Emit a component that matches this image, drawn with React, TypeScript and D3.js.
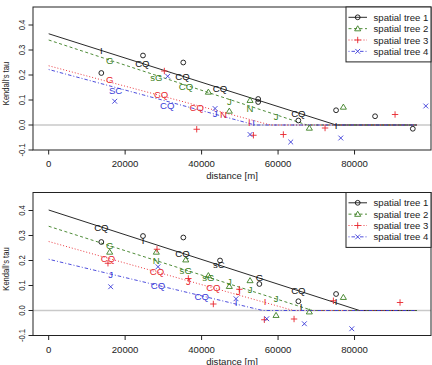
import * as d3 from "d3"

// [distance (m), Kendall's tau, label]
type Pt = [number, number, string]

const trees = ["spatial tree 1", "spatial tree 2", "spatial tree 3", "spatial tree 4"]
const colors = ["#111111", "#3b7f22", "#e8262e", "#3a3ad8"]
const xTicks = [0, 20000, 40000, 60000, 80000]
const yTicks = [-0.1, 0, 0.1, 0.2, 0.3, 0.4]

// upper panel
const topTree1: Pt[] = [
  [13770, 0.299, "I"], [13770, 0.208, ""], [24670, 0.278, ""], [24500, 0.245, "CQ"],
  [35200, 0.25, ""], [35000, 0.194, "CQ"], [44800, 0.146, "CQ"], [54800, 0.104, ""],
  [54800, 0.092, ""], [65300, 0.048, "CQ"], [65300, 0.018, ""], [75170, 0.059, ""],
  [75170, 0.0, "I"], [85370, 0.035, ""], [95240, -0.015, ""],
]
const topTree2: Pt[] = [
  [15960, 0.259, "G"], [28160, 0.192, "sG"], [35900, 0.155, "CQ"], [41770, 0.132, ""],
  [47250, 0.096, "J"], [47250, 0.056, ""], [52670, 0.099, ""], [52670, 0.066, "N"],
  [59470, 0.035, "J"], [68180, -0.012, ""], [77080, 0.072, ""],
]
const topTree3: Pt[] = [
  [16000, 0.184, "G"], [30250, 0.216, ""], [29400, 0.121, "CQ"], [38720, 0.072, "CQ"],
  [38720, -0.017, ""], [45690, 0.043, "N"], [52500, 0.011, "I"], [53550, -0.041, ""],
  [61380, -0.038, ""], [72290, -0.012, ""], [90600, 0.042, ""],
]
const topTree4: Pt[] = [
  [17500, 0.14, "SC"], [17270, 0.095, ""], [31130, 0.195, ""], [31000, 0.077, "CQ"],
  [43520, 0.066, ""], [43520, 0.046, "J"], [53600, 0.011, "I"], [52670, -0.038, ""],
  [63310, -0.068, ""], [76400, -0.052, ""], [98640, 0.076, ""],
]
const topIntercept = [0.365, 0.34, 0.237, 0.222]
const topZeroAt = [75200, 67600, 58000, 54000]

// lower panel
const bottomTree1: Pt[] = [
  [13770, 0.334, "CQ"], [13770, 0.274, ""], [24670, 0.298, ""], [24670, 0.279, "I"],
  [35220, 0.292, ""], [35000, 0.23, "CQ"], [44820, 0.2, ""], [44500, 0.183, "sC"],
  [55110, 0.134, "G"], [55110, 0.106, ""], [65300, 0.081, "CQ"], [65310, 0.037, ""],
  [66000, 0.018, "I"], [75170, 0.066, ""], [75170, 0.035, "I"],
]
const bottomTree2: Pt[] = [
  [15960, 0.26, "G"], [15960, 0.234, ""], [28160, 0.234, ""], [28160, 0.2, "N"],
  [35850, 0.203, ""], [35850, 0.161, "sG"], [41770, 0.14, ""], [41770, 0.132, "sG"],
  [47250, 0.117, "J"], [47250, 0.097, ""], [52670, 0.12, ""], [52670, 0.084, "J"],
  [59470, 0.048, "J"], [59470, -0.019, ""], [68180, -0.005, ""], [77080, 0.053, ""],
]
const bottomTree3: Pt[] = [
  [15510, 0.21, "CQ"], [15510, 0.189, ""], [28330, 0.245, ""], [28330, 0.155, "CQ"],
  [36530, 0.128, ""], [36530, 0.116, "J"], [43070, 0.092, "CQ"], [43070, 0.026, ""],
  [49870, 0.085, ""], [49610, 0.076, "J"], [56590, 0.037, "I"], [56410, -0.037, ""],
  [64180, -0.034, ""], [74470, 0.039, ""], [91900, 0.032, ""],
]
const bottomTree4: Pt[] = [
  [16220, 0.144, "J"], [16220, 0.095, ""], [28600, 0.175, ""], [28600, 0.1, "CQ"],
  [40030, 0.058, "CQ"], [49000, 0.047, ""], [49000, 0.031, "I"], [57040, -0.033, ""],
  [66880, -0.053, ""], [79280, -0.073, ""],
]
const bottomIntercept = [0.402, 0.337, 0.276, 0.205]
const bottomZeroAt = [81300, 69000, 64000, 56000]

const fitEnd = 96300

const W = 432
const H = 365
const left = 33
const right = 431
const font = "'Liberation Sans', Arial, Helvetica, sans-serif"
const dashes = ["", "3,2.5", "1,2", "1,2,3.5,2"]

const x = d3.scaleLinear().domain([-4100, 100000]).range([left, right])

function Symbol({ kind, cx, cy, color }: { kind: number; cx: number; cy: number; color: string }) {
  const sw = 0.9
  if (kind === 0) return <circle cx={cx} cy={cy} r={2.4} fill="none" stroke={color} strokeWidth={sw} />
  if (kind === 1) {
    const s = 2.9
    const path = d3.path()
    path.moveTo(cx, cy - s)
    path.lineTo(cx + s * 1.05, cy + s * 0.75)
    path.lineTo(cx - s * 1.05, cy + s * 0.75)
    path.closePath()
    return <path d={path.toString()} fill="none" stroke={color} strokeWidth={sw} />
  }
  if (kind === 2) {
    const s = 3.2
    return (
      <path d={`M${cx - s},${cy}H${cx + s}M${cx},${cy - s}V${cy + s}`} stroke={color} strokeWidth={sw} />
    )
  }
  const s = 2.4
  return (
    <path
      d={`M${cx - s},${cy - s}L${cx + s},${cy + s}M${cx - s},${cy + s}L${cx + s},${cy - s}`}
      stroke={color}
      strokeWidth={sw}
    />
  )
}

interface PanelProps {
  top: number
  bottom: number
  series: Pt[][]
  intercepts: number[]
  zeros: number[]
}

function Panel({ top, bottom, series, intercepts, zeros }: PanelProps) {
  const y = d3.scaleLinear().domain([-0.1, 0.472]).range([bottom, top])
  const line = d3
    .line<[number, number]>()
    .x(d => x(d[0]))
    .y(d => y(d[1]))
  const midY = (top + bottom) / 2
  const legTop = top
  const legRow = 11.35

  return (
    <g>
      {/* zero reference */}
      <line x1={left} x2={right} y1={y(0)} y2={y(0)} stroke="#c9c9c9" strokeWidth={1.6} />

      {/* fitted piecewise lines */}
      {intercepts.map((b, i) => (
        <path
          key={"fit" + i}
          d={line([[0, b], [zeros[i], 0], [fitEnd, 0]]) || ""}
          fill="none"
          stroke={colors[i]}
          strokeWidth={0.9}
          strokeDasharray={dashes[i]}
        />
      ))}

      {/* points: labelled ones as text, others as symbols */}
      {series.map((pts, i) =>
        pts.map((p, j) =>
          p[2] ? (
            <text
              key={`t${i}-${j}`}
              x={x(p[0])}
              y={y(p[1])}
              fill={colors[i]}
              fontSize={9.6}
              fontFamily={font}
              textAnchor="middle"
              dominantBaseline="central"
            >
              {p[2]}
            </text>
          ) : (
            <Symbol key={`s${i}-${j}`} kind={i} cx={x(p[0])} cy={y(p[1])} color={colors[i]} />
          )
        )
      )}

      {/* frame */}
      <rect x={left} y={top} width={right - left} height={bottom - top} fill="none" stroke="#222" strokeWidth={1} />

      {/* x axis */}
      {xTicks.map(t => (
        <g key={"x" + t}>
          <line x1={x(t)} x2={x(t)} y1={bottom} y2={bottom + 4.5} stroke="#222" strokeWidth={1} />
          <text x={x(t)} y={bottom + 13.5} fontSize={9.6} fontFamily={font} textAnchor="middle" dominantBaseline="central" fill="#222">
            {t}
          </text>
        </g>
      ))}
      <text x={(left + right) / 2} y={bottom + 25.5} fontSize={9.6} fontFamily={font} textAnchor="middle" dominantBaseline="central" fill="#222">
        distance [m]
      </text>

      {/* y axis */}
      {yTicks.map(t => (
        <g key={"y" + t}>
          <line x1={left - 4.5} x2={left} y1={y(t)} y2={y(t)} stroke="#222" strokeWidth={1} />
          <text
            transform={`translate(21.5,${y(t)}) rotate(-90) scale(0.8,1)`}
            fontSize={9.6}
            fontFamily={font}
            textAnchor="middle"
            dominantBaseline="central"
            fill="#222"
          >
            {t.toFixed(1)}
          </text>
        </g>
      ))}
      <text
        transform={`translate(6,${midY + 5}) rotate(-90) scale(0.78,1)`}
        fontSize={9.8}
        fontFamily={font}
        textAnchor="middle"
        dominantBaseline="central"
        fill="#222"
      >
        Kendall's tau
      </text>

      {/* legend */}
      <rect x={346} y={legTop} width={right - 346} height={legRow * 4 + 9.5} fill="white" stroke="#222" strokeWidth={1} />
      {trees.map((name, i) => {
        const ly = legTop + 10.3 + i * legRow
        return (
          <g key={name}>
            <line x1={348.5} x2={367} y1={ly} y2={ly} stroke={colors[i]} strokeWidth={0.9} strokeDasharray={dashes[i]} />
            <Symbol kind={i} cx={357.7} cy={ly} color={colors[i]} />
            <text x={373.5} y={ly} fontSize={9.6} fontFamily={font} dominantBaseline="central" fill="#222">
              {name}
            </text>
          </g>
        )
      })}
    </g>
  )
}

export default function App() {
  return (
    <svg
      width={W}
      height={H}
      viewBox={`0 0 ${W} ${H}`}
      style={{ position: "absolute", left: 0, top: 0, background: "white" }}
    >
      <rect width={W} height={H} fill="white" />
      <Panel
        top={7}
        bottom={150}
        series={[topTree1, topTree2, topTree3, topTree4]}
        intercepts={topIntercept}
        zeros={topZeroAt}
      />
      <Panel
        top={192.5}
        bottom={335.5}
        series={[bottomTree1, bottomTree2, bottomTree3, bottomTree4]}
        intercepts={bottomIntercept}
        zeros={bottomZeroAt}
      />
    </svg>
  )
}
